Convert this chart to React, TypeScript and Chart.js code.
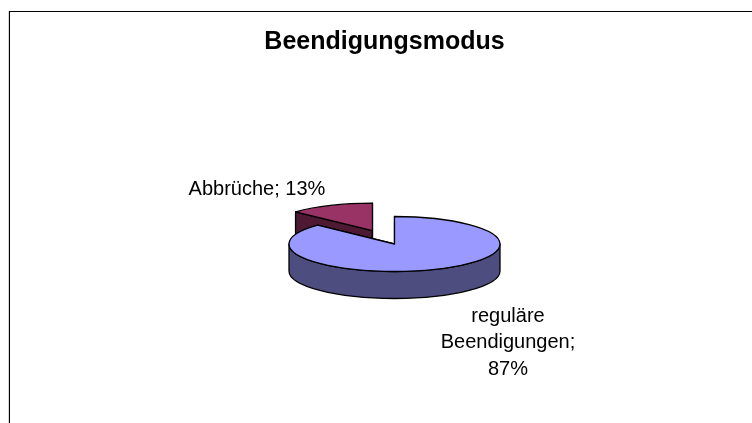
import React, { useEffect, useRef } from "react";
import { Chart, registerables } from "chart.js";

Chart.register(...registerables);

const chartTitle = "Beendigungsmodus";
const categories = ["reguläre Beendigungen", "Abbrüche"];
const values = [87, 13];
const topColors = ["#9999FF", "#993366"];
const wallColors = ["#4D4D80", "#4D1933"];
const sliceLabels = [["reguläre", "Beendigungen;", "87%"], ["Abbrüche; 13%"]];

const FONT = "'Liberation Sans', Arial, sans-serif";
const CENTER = { x: 394.5, y: 244 };
const RX = 105.5;
const RY = 27.5;
const DEPTH = 27;
const EXPLODE = [0, 55.5];
const LABEL_POS = [{ x: 508, y: 316 }, { x: 257, y: 189 }];
const LINE_H = 26.7;

const pie3d = {
  id: "pie3d",
  beforeDraw(chart: any) {
    const { ctx, width, height } = chart;
    ctx.save();
    ctx.fillStyle = "#d8d8d8";
    ctx.fillRect(8, 11, 1, height - 11);
    ctx.fillStyle = "#000";
    ctx.fillRect(9, 11, width - 9, 1);
    ctx.fillRect(9, 11, 1, height - 11);
    ctx.restore();
  },
  beforeDatasetsDraw(chart: any) {
    const { ctx } = chart;
    const arcs = chart.getDatasetMeta(0).data;
    const k = RY / RX;
    const place = arcs.map((arc: any, i: number) => {
      const mid = (arc.startAngle + arc.endAngle) / 2;
      return {
        x: CENTER.x + Math.cos(mid) * EXPLODE[i],
        y: CENTER.y + Math.sin(mid) * EXPLODE[i] * k,
      };
    });
    const order = arcs.map((_: any, i: number) => i).reverse();
    ctx.save();
    ctx.lineWidth = 1.3;
    ctx.strokeStyle = "#000";
    ctx.lineJoin = "round";
    // walls, back slice first
    order.forEach((i: number) => {
      const arc = arcs[i];
      const p = place[i];
      ctx.fillStyle = wallColors[i];
      [arc.startAngle, arc.endAngle].forEach((a: number) => {
        const ex = p.x + Math.cos(a) * RX;
        const ey = p.y + Math.sin(a) * RY;
        ctx.beginPath();
        ctx.moveTo(p.x, p.y);
        ctx.lineTo(ex, ey);
        ctx.lineTo(ex, ey + DEPTH);
        ctx.lineTo(p.x, p.y + DEPTH);
        ctx.closePath();
        ctx.fill();
        ctx.stroke();
      });
      const from = Math.max(arc.startAngle, 0);
      const to = Math.min(arc.endAngle, Math.PI);
      if (to > from) {
        ctx.beginPath();
        ctx.ellipse(p.x, p.y, RX, RY, 0, from, to);
        ctx.ellipse(p.x, p.y + DEPTH, RX, RY, 0, to, from, true);
        ctx.closePath();
        ctx.fill();
        ctx.stroke();
      }
    });
    // tops: the library's own arc elements, flattened
    order.forEach((i: number) => {
      const arc = arcs[i];
      const p = place[i];
      ctx.save();
      ctx.translate(p.x, p.y);
      ctx.scale(1, k);
      ctx.translate(-arc.x, -arc.y);
      arc.draw(ctx, chart.chartArea);
      ctx.restore();
      ctx.beginPath();
      ctx.moveTo(p.x, p.y);
      ctx.ellipse(p.x, p.y, RX, RY, 0, arc.startAngle, arc.endAngle);
      ctx.closePath();
      ctx.stroke();
    });
    // labels
    ctx.fillStyle = "#000";
    ctx.font = `20px ${FONT}`;
    ctx.textAlign = "center";
    ctx.textBaseline = "middle";
    sliceLabels.forEach((lines, i) => {
      lines.forEach((t, j) => ctx.fillText(t, LABEL_POS[i].x, LABEL_POS[i].y + j * LINE_H));
    });
    ctx.restore();
    return false;
  },
};

export default function App() {
  const ref = useRef<HTMLCanvasElement>(null);
  useEffect(() => {
    const chart = new Chart(ref.current!, {
      type: "pie",
      data: {
        labels: categories,
        datasets: [
          {
            data: values,
            backgroundColor: topColors,
            borderWidth: 0,
            radius: RX,
            clip: false,
          } as any,
        ],
      },
      options: {
        responsive: false,
        animation: false,
        layout: { padding: { left: 17 } },
        plugins: {
          legend: { display: false },
          tooltip: { enabled: false },
          title: {
            display: true,
            text: chartTitle,
            color: "#000",
            font: { family: FONT, size: 25, weight: "bold" },
            padding: { top: 27.5, bottom: 0 },
          },
        },
      },
      plugins: [pie3d],
    } as any);
    return () => chart.destroy();
  }, []);
  return (
    <div style={{ position: "absolute", left: 0, top: 0, width: 752, height: 423, background: "#fff" }}>
      <canvas ref={ref} width={752} height={423} style={{ display: "block" }} />
    </div>
  );
}
